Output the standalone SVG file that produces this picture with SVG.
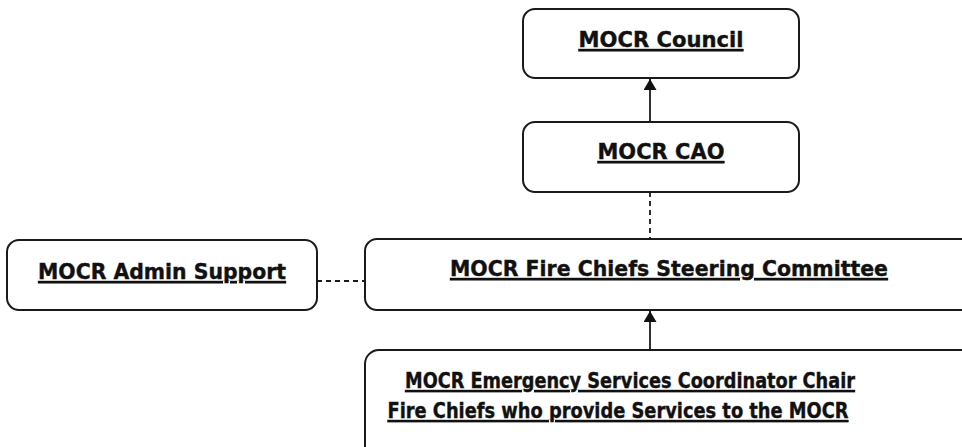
<svg xmlns="http://www.w3.org/2000/svg" width="962" height="447" viewBox="0 0 962 447">
<style>
.box{fill:#fff;stroke:#1a1a1a;stroke-width:2}
.t{font-family:"DejaVu Sans",Verdana,sans-serif;font-weight:bold;font-size:22px;fill:#111;stroke:#111;stroke-width:0.4;text-decoration:underline;text-anchor:middle}
.c{stroke:#1a1a1a;stroke-width:1.8;fill:none}
.d{stroke-dasharray:5,4}
</style>
<defs>
<marker id="ah" viewBox="0 0 11 13" refX="11" refY="6.5" markerWidth="11" markerHeight="13" markerUnits="userSpaceOnUse" orient="auto">
<path d="M0,0 L11,6.5 L0,13 Z" fill="#111"/>
</marker>
</defs>
<rect width="962" height="447" fill="#fff"/>
<g id="connectors">
<line class="c" x1="650" y1="122" x2="650" y2="79" marker-end="url(#ah)"/>
<line class="c d" x1="650" y1="192" x2="650" y2="239"/>
<line class="c d" x1="317" y1="281" x2="365" y2="281"/>
<line class="c" x1="650" y1="350" x2="650" y2="311" marker-end="url(#ah)"/>
</g>
<g id="council">
<rect class="box" x="523" y="9" width="276" height="69" rx="12"/>
<text class="t" x="661" y="47" textLength="165" lengthAdjust="spacingAndGlyphs">MOCR Council</text>
</g>
<g id="cao">
<rect class="box" x="523" y="122" width="276" height="70" rx="12"/>
<text class="t" x="661" y="159" textLength="127" lengthAdjust="spacingAndGlyphs">MOCR CAO</text>
</g>
<g id="admin">
<rect class="box" x="7" y="240" width="310" height="70" rx="12"/>
<text class="t" x="162" y="279" textLength="248" lengthAdjust="spacingAndGlyphs">MOCR Admin Support</text>
</g>
<g id="steering">
<rect class="box" x="365" y="239" width="620" height="71" rx="12"/>
<text class="t" x="669" y="276" textLength="438" lengthAdjust="spacingAndGlyphs">MOCR Fire Chiefs Steering Committee</text>
</g>
<g id="emergency">
<rect class="box" x="365" y="350" width="620" height="120" rx="14"/>
<text class="t" x="630" y="388" textLength="450" lengthAdjust="spacingAndGlyphs" style="font-size:21px">MOCR Emergency Services Coordinator Chair</text>
<text class="t" x="618" y="418" textLength="461" lengthAdjust="spacingAndGlyphs" style="font-size:21px">Fire Chiefs who provide Services to the MOCR</text>
</g>
</svg>
